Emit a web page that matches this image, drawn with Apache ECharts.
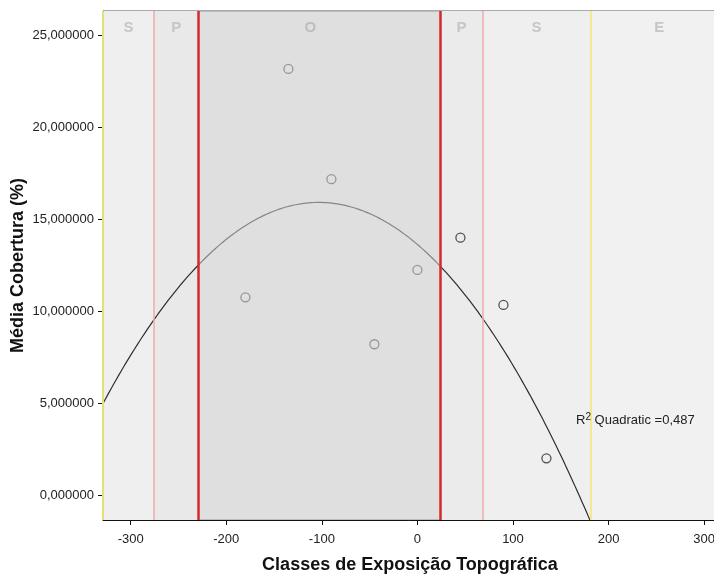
<!DOCTYPE html>
<html>
<head>
<meta charset="utf-8">
<script src="https://cdn.jsdelivr.net/npm/echarts@6/dist/echarts.min.js"></script>
<style>
  html, body { margin: 0; padding: 0; background: #fff; }
  #chart { width: 714px; height: 576px; }
</style>
</head>
<body>
<div id="chart"></div>
<script>
// Topographic exposure classes (degrees) and mean cover (%)
const exposure = [-180, -135, -90, -45, 0, 45, 90, 135];
const meanCover = [10.74, 23.15, 17.16, 8.19, 12.23, 13.98, 10.33, 1.99];

// Axis ticks
const xTicks = [-300, -200, -100, 0, 100, 200, 300];
const yTicks = [0, 5, 10, 15, 20, 25];
const xRange = [-329, 325];
const yRange = [-1.36, 26.3];

// Exposure bands shown behind the points
const bandNames = ['S', 'P', 'O', 'P', 'S', 'E'];
const bandEdges = [-329, -275.6, -229.3, 24.3, 68.2, 181.2, 325];
const bandFills = ['#efefef', '#e9e9e9', 'rgba(208,208,208,0.54)', '#ebebeb', '#efefef', '#f1f1f1'];

// Band boundary lines
const boundaryX = [-329, -275.6, -229.3, 24.3, 68.2, 181.2];
const boundaryColors = ['#e4df7a', '#f0aaaa', '#d42a2a', '#d42a2a', '#f0aaaa', '#f3ea8e'];
const boundaryWidths = [2, 1.5, 2.5, 2.5, 1.5, 2];

const r2Label = '0,487';
const r2Anchor = [166, 4.1];

const FONT = 'Liberation Sans, Arial, sans-serif';

// Least-squares quadratic fit y = a + b x + c x^2
function quadFit(xs, ys) {
  let s0 = xs.length, s1 = 0, s2 = 0, s3 = 0, s4 = 0, t0 = 0, t1 = 0, t2 = 0;
  for (let i = 0; i < xs.length; i++) {
    const x = xs[i], y = ys[i];
    s1 += x; s2 += x * x; s3 += x * x * x; s4 += x * x * x * x;
    t0 += y; t1 += x * y; t2 += x * x * y;
  }
  const det3 = m => m[0][0] * (m[1][1] * m[2][2] - m[1][2] * m[2][1])
                  - m[0][1] * (m[1][0] * m[2][2] - m[1][2] * m[2][0])
                  + m[0][2] * (m[1][0] * m[2][1] - m[1][1] * m[2][0]);
  const M = [[s0, s1, s2], [s1, s2, s3], [s2, s3, s4]];
  const r = [t0, t1, t2];
  const D = det3(M);
  const col = k => M.map((row, i) => row.map((v, j) => (j === k ? r[i] : v)));
  return [det3(col(0)) / D, det3(col(1)) / D, det3(col(2)) / D];
}

const coef = quadFit(exposure, meanCover);
const fitCurve = [];
const steps = 240;
for (let i = 0; i <= steps; i++) {
  const x = xRange[0] + (xRange[1] - xRange[0]) * i / steps;
  fitCurve.push([x, coef[0] + coef[1] * x + coef[2] * x * x]);
}

const points = exposure.map((x, i) => [x, meanCover[i]]);

const bandItem = (i) => [
  {
    xAxis: bandEdges[i],
    itemStyle: { color: bandFills[i] },
    label: {
      show: true,
      formatter: bandNames[i],
      position: 'insideTop',
      distance: 9,
      offset: bandNames[i] === 'O' ? [-9, 0] : [0, 0],
      color: bandNames[i] === 'O' ? '#bdbdbd' : '#c6c6c6',
      fontSize: 15,
      fontWeight: 'bold',
      fontFamily: FONT
    }
  },
  { xAxis: bandEdges[i + 1] }
];

const underBands = [0, 1, 3, 4, 5].map(bandItem);
const overBands = [2].map(bandItem);

const chart = echarts.init(document.getElementById('chart'), null, { renderer: 'canvas' });

chart.setOption({
  backgroundColor: '#ffffff',
  animation: false,
  grid: {
    left: 103, top: 11, right: -14, bottom: 56,
    outerBoundsMode: 'none',
    containLabel: false,
    show: true,
    backgroundColor: '#f0f0f0',
    borderColor: '#555555',
    borderWidth: 1
  },
  xAxis: {
    type: 'value',
    min: xRange[0], max: xRange[1],
    name: 'Classes de Exposição Topográfica',
    nameLocation: 'middle',
    nameGap: 36,
    nameMoveOverlap: false,
    nameTextStyle: {
      fontFamily: FONT,
      fontSize: 18, fontWeight: 'bold', color: '#111',
      padding: [0, 11, 0, 0]
    },
    axisLine: { show: true, onZero: false, lineStyle: { color: '#111', width: 1 } },
    axisTick: { show: true, length: 5, customValues: xTicks, lineStyle: { color: '#111' } },
    axisLabel: {
      customValues: xTicks,
      margin: 13,
      color: '#222', fontSize: 13,
      fontFamily: FONT,
      formatter: v => String(v)
    },
    splitLine: { show: false }
  },
  yAxis: {
    type: 'value',
    min: yRange[0], max: yRange[1],
    name: 'Média Cobertura (%)',
    nameLocation: 'middle',
    nameGap: 76,
    nameMoveOverlap: false,
    nameTextStyle: {
      fontFamily: FONT,
      fontSize: 18, fontWeight: 'bold', color: '#111'
    },
    axisLine: { show: true, onZero: false, lineStyle: { color: '#9c9a4e', width: 1 } },
    axisTick: { show: true, length: 5, customValues: yTicks, lineStyle: { color: '#111' } },
    axisLabel: {
      customValues: yTicks,
      margin: 9,
      color: '#222', fontSize: 13,
      fontFamily: FONT,
      formatter: v => v.toFixed(6).replace('.', ',')
    },
    splitLine: { show: false }
  },
  series: [
    {
      name: 'bands',
      type: 'scatter',
      data: [],
      z: 1,
      silent: true,
      markArea: { silent: true, z: 1, data: underBands }
    },
    {
      name: 'Quadratic',
      type: 'line',
      data: fitCurve,
      showSymbol: false,
      symbol: 'none',
      z: 2,
      clip: true,
      lineStyle: { color: '#2e2e2e', width: 1.2 },
      markPoint: {
        symbol: 'circle',
        symbolSize: 0,
        data: [{ coord: r2Anchor }],
        label: {
          show: true,
          position: 'right',
          distance: 0,
          formatter: '{b|R}{s|2}{b| Quadratic =' + r2Label + '}',
          rich: {
            b: { fontSize: 13, color: '#222', fontFamily: FONT, verticalAlign: 'bottom', lineHeight: 15 },
            s: { fontSize: 10, color: '#222', fontFamily: FONT, verticalAlign: 'top', lineHeight: 15, padding: [0, 0, 4, 0] }
          }
        }
      }
    },
    {
      name: 'Média',
      type: 'scatter',
      data: points,
      z: 2,
      symbol: 'circle',
      symbolSize: 9,
      itemStyle: { color: 'rgba(0,0,0,0)', borderColor: '#2a2a2a', borderWidth: 1.3 }
    },
    {
      name: 'overlay',
      type: 'scatter',
      data: [],
      z: 3,
      silent: true,
      markArea: { silent: true, z: 3, data: overBands }
    },
    {
      name: 'boundaries',
      type: 'scatter',
      data: [],
      z: 4,
      silent: true,
      markLine: {
        silent: true,
        z: 4,
        symbol: 'none',
        label: { show: false },
        data: boundaryX.map((x, i) => ({
          xAxis: x,
          lineStyle: { color: boundaryColors[i], width: boundaryWidths[i], type: 'solid' }
        }))
      }
    }
  ]
});
</script>
</body>
</html>
